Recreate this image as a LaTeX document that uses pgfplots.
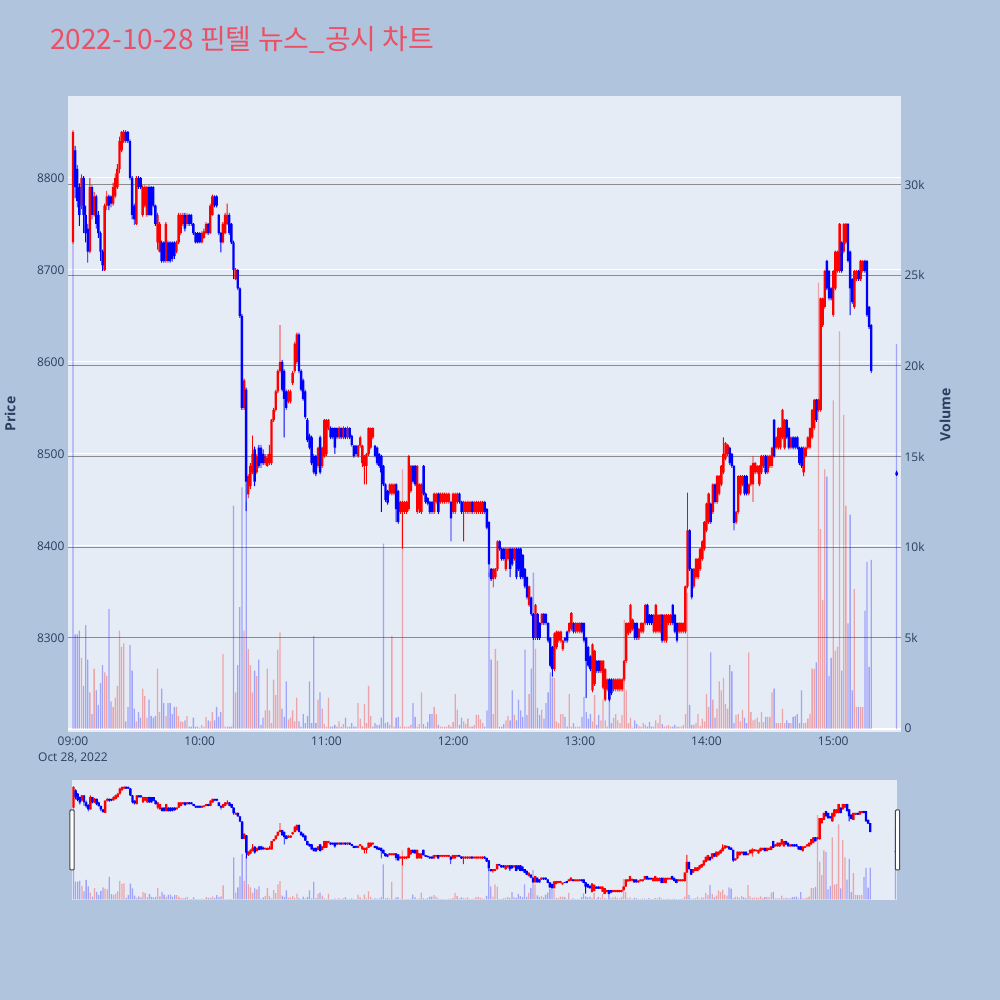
\documentclass[border=0pt]{standalone}
\usepackage{fontspec}
\setmainfont{Open Sans}
\newfontfamily\cjk{Noto Sans CJK KR}
\usepackage{pgfplots}
\usepackage{pgfplotstable}
\pgfplotsset{compat=1.18}
\definecolor{pagebg}{HTML}{B0C4DE}
\definecolor{plotbg}{HTML}{E5ECF6}
\definecolor{txt}{HTML}{2A3F5F}
\definecolor{ttl}{RGB}{235,80,100}
\definecolor{vgrid}{RGB}{140,140,140}
\definecolor{up}{RGB}{255,0,0}
\definecolor{dn}{RGB}{0,0,255}

\pgfplotstableread{
t o h l c v
0 8730 8852 8728 8850 26.8
1 8830 8835 8778 8790 5.2
2 8810 8814 8768 8775 5.2
3 8790 8794 8748 8760 5.4
4 8770 8804 8766 8800 3.9
5 8800 8802 8740 8760 2.35
6 8760 8770 8730 8740 5.7
7 8745 8750 8708 8720 3.8
8 8720 8800 8718 8790 2.0
9 8790 8792 8755 8760 0.8
10 8760 8785 8758 8780 3.3
11 8780 8782 8745 8750 2.1
12 8760 8764 8735 8740 1.3
13 8740 8742 8710 8720 2.5
14 8720 8722 8699 8705 3.5
15 8700 8772 8699 8770 3.1
16 8770 8786 8765 8780 2.9
17 8780 8782 8765 8770 6.6
18 8780 8781 8768 8772 1.5
19 8772 8795 8770 8790 1.2
20 8780 8805 8778 8800 1.7
21 8790 8815 8788 8810 2.35
22 8810 8845 8805 8840 5.4
23 8830 8851 8828 8850 4.5
24 8840 8852 8838 8850 4.7
25 8850 8852 8838 8840 0.4
26 8850 8851 8838 8840 1.2
27 8840 8842 8798 8800 4.6
28 8800 8802 8755 8760 3.2
29 8770 8772 8749 8755 1.1
30 8750 8802 8749 8800 0.4
31 8800 8802 8788 8790 0.9
32 8800 8801 8788 8790 0.6
33 8760 8792 8758 8790 2.2
34 8770 8792 8768 8790 1.8
35 8760 8791 8758 8790 0.6
36 8790 8792 8759 8760 1.6
37 8790 8791 8759 8760 0.7
38 8790 8791 8768 8770 0.6
39 8770 8771 8748 8750 0.7
40 8730 8762 8722 8760 3.3
41 8720 8752 8719 8750 0.9
42 8730 8732 8708 8710 2.2
43 8730 8731 8708 8710 1.4
44 8710 8752 8708 8750 0.7
45 8730 8732 8708 8710 1.4
46 8730 8731 8708 8710 1.4
47 8730 8731 8709 8712 0.8
48 8730 8731 8712 8715 1.2
49 8720 8732 8718 8730 1.2
50 8730 8762 8728 8760 0.7
51 8740 8762 8738 8760 0.4
52 8750 8762 8748 8760 0.35
53 8760 8762 8742 8745 0.45
54 8750 8762 8748 8760 0.7
55 8760 8761 8748 8750 0.1
56 8760 8761 8748 8750 0.1
57 8750 8751 8738 8740 0.6
58 8740 8741 8729 8730 0.1
59 8740 8741 8729 8730 0.1
60 8740 8741 8729 8730 0.05
61 8730 8742 8729 8740 0.2
62 8735 8745 8734 8742 0.1
63 8740 8752 8739 8750 0.65
64 8750 8751 8738 8740 0.45
65 8740 8772 8739 8770 0.4
66 8760 8782 8759 8780 0.9
67 8780 8781 8768 8770 0.45
68 8780 8781 8768 8770 1.2
69 8760 8761 8738 8740 0.65
70 8740 8741 8719 8730 0.9
71 8730 8752 8729 8750 4.1
72 8740 8762 8739 8760 0.1
73 8750 8772 8749 8760 0.1
74 8760 8762 8738 8740 0.1
75 8750 8751 8728 8730 0.1
76 8730 8732 8690 8700 12.3
77 8690 8702 8689 8700 2.0
78 8700 8701 8678 8680 3.5
79 8680 8681 8648 8650 6.7
80 8650 8652 8548 8550 13.3
81 8550 8582 8548 8580 5.4
82 8570 8572 8438 8470 12.5
83 8456 8478 8452 8476 4.4
84 8465 8490 8462 8487 3.5
85 8480 8520 8478 8500 2.0
86 8505 8508 8465 8470 3.2
87 8480 8500 8478 8498 2.9
88 8507 8510 8485 8487 3.8
89 8507 8510 8485 8490 0.2
90 8500 8505 8488 8490 0.6
91 8490 8500 8488 8498 1.0
92 8487 8500 8486 8496 3.3
93 8490 8510 8488 8500 1.0
94 8490 8538 8488 8537 0.3
95 8537 8550 8535 8548 2.7
96 8548 8570 8546 8568 1.85
97 8568 8592 8566 8590 4.35
98 8590 8640 8588 8600 5.3
99 8600 8602 8568 8570 1.1
100 8590 8592 8518 8560 0.65
101 8568 8570 8548 8550 2.6
102 8557 8570 8555 8568 0.5
103 8557 8570 8555 8568 0.6
104 8577 8590 8575 8588 1.0
105 8590 8622 8588 8620 0.4
106 8600 8632 8598 8630 1.7
107 8630 8632 8588 8590 0.4
108 8590 8592 8568 8570 0.1
109 8580 8582 8558 8560 0.8
110 8568 8570 8538 8540 0.3
111 8537 8539 8513 8515 0.7
112 8520 8522 8505 8507 2.6
113 8518 8520 8488 8490 0.3
114 8498 8500 8478 8480 5.1
115 8498 8499 8476 8478 0.3
116 8487 8508 8485 8507 1.6
117 8518 8520 8478 8480 2.0
118 8487 8508 8485 8507 1.1
119 8498 8538 8496 8537 0.25
120 8500 8538 8498 8537 0.1
121 8528 8538 8526 8537 1.7
122 8528 8530 8516 8518 0.1
123 8528 8529 8516 8518 0.1
124 8528 8529 8500 8507 0.2
125 8528 8529 8516 8518 0.1
126 8518 8530 8516 8528 0.4
127 8528 8529 8516 8518 0.1
128 8518 8530 8516 8528 0.25
129 8528 8529 8516 8518 0.6
130 8518 8530 8516 8528 0.1
131 8528 8529 8516 8518 0.1
132 8520 8521 8508 8510 0.3
133 8509 8510 8496 8498 0.1
134 8509 8510 8498 8500 0.1
135 8498 8510 8496 8509 1.4
136 8509 8520 8507 8518 0.55
137 8490 8510 8486 8509 0.1
138 8487 8499 8467 8498 1.35
139 8487 8501 8467 8500 0.3
140 8500 8529 8498 8528 2.35
141 8507 8529 8505 8528 0.7
142 8518 8529 8516 8528 0.1
143 8509 8510 8496 8498 0.3
144 8507 8508 8488 8490 0.2
145 8500 8501 8485 8487 0.2
146 8498 8499 8437 8480 0.6
147 8487 8488 8465 8467 10.2
148 8467 8468 8448 8450 0.3
149 8460 8461 8445 8447 0.35
150 8457 8468 8455 8467 0.2
151 8457 8468 8455 8467 5.1
152 8457 8468 8455 8467 0.1
153 8467 8468 8426 8440 0.6
154 8460 8461 8424 8426 0.65
155 8437 8449 8435 8448 0.1
156 8437 8449 8397 8448 14.3
157 8437 8449 8435 8448 0.1
158 8437 8449 8435 8448 0.1
159 8440 8499 8438 8498 0.1
160 8460 8488 8458 8487 0.2
161 8487 8488 8468 8470 1.4
162 8487 8488 8465 8467 0.65
163 8437 8488 8435 8487 0.1
164 8440 8468 8436 8467 0.25
165 8437 8468 8435 8467 2.0
166 8487 8488 8455 8457 0.25
167 8457 8458 8446 8448 0.1
168 8452 8453 8444 8446 0.35
169 8448 8449 8435 8437 0.8
170 8448 8449 8435 8437 0.8
171 8437 8458 8435 8457 1.2
172 8448 8458 8446 8457 0.8
173 8457 8458 8435 8437 0.2
174 8448 8458 8446 8457 0.1
175 8448 8458 8446 8457 0.1
176 8448 8458 8446 8457 0.1
177 8448 8458 8446 8457 0.1
178 8448 8458 8446 8457 0.2
179 8448 8449 8405 8430 0.1
180 8437 8458 8435 8457 0.35
181 8437 8458 8435 8457 1.9
182 8448 8458 8446 8457 1.05
183 8457 8458 8446 8448 0.2
184 8448 8449 8435 8437 0.6
185 8437 8449 8405 8448 0.4
186 8437 8449 8435 8448 0.25
187 8437 8449 8435 8448 0.55
188 8437 8449 8435 8448 0.1
189 8448 8449 8435 8437 0.1
190 8437 8449 8435 8448 0.2
191 8437 8449 8435 8448 0.75
192 8437 8449 8435 8448 0.75
193 8437 8449 8435 8448 0.5
194 8437 8449 8435 8448 0.3
195 8448 8449 8435 8437 0.1
196 8440 8441 8418 8420 1.0
197 8426 8427 8366 8380 8.6
198 8375 8376 8362 8364 3.8
199 8364 8376 8355 8375 0.8
200 8366 8376 8364 8375 4.4
201 8375 8406 8373 8405 3.75
202 8405 8406 8395 8397 0.1
203 8397 8398 8384 8386 0.1
204 8397 8398 8384 8386 0.25
205 8375 8398 8373 8397 0.45
206 8386 8398 8384 8397 0.7
207 8397 8398 8366 8375 0.45
208 8397 8398 8378 8380 2.1
209 8386 8398 8384 8397 0.75
210 8397 8398 8364 8366 0.45
211 8397 8398 8373 8375 1.6
212 8397 8398 8364 8366 1.0
213 8390 8391 8364 8366 0.65
214 8375 8376 8354 8356 4.35
215 8366 8367 8342 8344 0.75
216 8336 8357 8334 8356 1.9
217 8344 8345 8324 8326 3.3
218 8326 8327 8298 8300 8.6
219 8300 8337 8298 8336 4.4
220 8326 8327 8298 8300 1.15
221 8316 8317 8298 8300 0.75
222 8316 8327 8314 8326 1.05
223 8326 8327 8314 8316 0.55
224 8326 8327 8314 8316 1.4
225 8316 8317 8295 8297 2.0
226 8300 8301 8268 8270 3.1
227 8290 8291 8258 8266 2.8
228 8266 8306 8264 8305 2.8
229 8290 8308 8288 8307 0.4
230 8297 8308 8295 8307 0.3
231 8297 8308 8295 8307 0.8
232 8288 8298 8286 8297 0.8
233 8300 8301 8295 8297 0.65
234 8307 8308 8295 8297 0.1
235 8307 8317 8305 8316 1.9
236 8310 8328 8308 8327 0.1
237 8316 8317 8305 8307 0.3
238 8307 8317 8305 8316 0.1
239 8307 8317 8305 8316 0.1
240 8307 8317 8305 8316 0.1
241 8316 8317 8305 8307 0.65
242 8316 8317 8295 8297 1.75
243 8300 8301 8235 8275 0.9
244 8290 8291 8268 8270 0.55
245 8280 8281 8264 8266 0.8
246 8243 8294 8241 8293 0.4
247 8250 8287 8248 8286 1.85
248 8275 8276 8262 8264 0.2
249 8275 8276 8262 8264 0.75
250 8264 8276 8262 8275 0.45
251 8246 8276 8244 8275 1.6
252 8233 8267 8231 8266 0.45
253 8244 8256 8242 8255 0.1
254 8255 8256 8231 8233 2.2
255 8255 8256 8238 8240 0.3
256 8244 8256 8242 8255 0.6
257 8244 8256 8242 8255 0.8
258 8244 8256 8242 8255 0.45
259 8244 8256 8242 8255 0.3
260 8244 8256 8242 8255 0.75
261 8255 8276 8253 8275 6.0
262 8275 8317 8273 8316 2.1
263 8305 8317 8303 8316 0.3
264 8307 8337 8305 8336 0.6
265 8310 8321 8308 8320 0.05
266 8316 8317 8298 8300 0.45
267 8316 8317 8298 8300 0.25
268 8300 8311 8298 8310 0.15
269 8307 8317 8305 8316 0.1
270 8307 8317 8305 8316 0.3
271 8316 8337 8314 8336 0.2
272 8336 8337 8314 8316 0.1
273 8325 8326 8314 8316 0.35
274 8325 8326 8314 8316 0.1
275 8307 8326 8305 8325 0.1
276 8307 8337 8305 8336 0.45
277 8307 8326 8305 8325 0.3
278 8307 8326 8305 8325 0.75
279 8325 8326 8295 8297 0.25
280 8297 8326 8295 8325 0.1
281 8297 8326 8295 8325 0.15
282 8316 8326 8314 8325 0.2
283 8316 8326 8314 8325 0.1
284 8336 8337 8314 8316 0.1
285 8325 8326 8305 8307 0.2
286 8316 8317 8295 8297 0.1
287 8307 8317 8305 8316 0.1
288 8307 8317 8305 8316 0.1
289 8307 8317 8305 8316 0.2
290 8307 8357 8305 8356 0.8
291 8356 8458 8354 8417 7.5
292 8417 8418 8373 8375 1.3
293 8375 8376 8342 8344 0.2
294 8356 8376 8354 8375 0.2
295 8366 8387 8364 8386 0.3
296 8366 8387 8364 8386 0.8
297 8375 8398 8373 8397 0.15
298 8386 8406 8384 8405 0.55
299 8397 8427 8395 8426 0.4
300 8417 8447 8415 8446 1.9
301 8426 8458 8424 8457 1.2
302 8446 8447 8424 8426 4.2
303 8437 8468 8435 8467 1.6
304 8467 8468 8446 8448 0.6
305 8448 8477 8446 8476 1.1
306 8457 8477 8455 8476 2.6
307 8467 8488 8465 8487 2.1
308 8480 8518 8478 8500 2.8
309 8495 8513 8493 8512 1.35
310 8500 8511 8498 8510 1.1
311 8507 8508 8488 8490 3.5
312 8500 8501 8485 8487 3.15
313 8487 8488 8417 8425 0.3
314 8426 8438 8424 8437 0.75
315 8437 8477 8435 8476 0.8
316 8457 8477 8455 8476 0.4
317 8467 8477 8465 8476 1.05
318 8476 8477 8455 8457 0.6
319 8476 8477 8455 8457 0.3
320 8457 8468 8455 8467 4.2
321 8467 8488 8465 8487 0.9
322 8467 8498 8448 8490 0.45
323 8480 8491 8478 8490 0.5
324 8480 8488 8478 8487 0.6
325 8467 8488 8465 8487 0.35
326 8480 8499 8478 8498 0.9
327 8487 8499 8485 8498 0.35
328 8498 8499 8478 8480 0.65
329 8480 8499 8478 8498 0.65
330 8487 8499 8485 8498 0.65
331 8487 8508 8485 8507 2.0
332 8537 8538 8496 8498 2.2
333 8507 8519 8505 8518 0.3
334 8507 8529 8505 8528 0.3
335 8507 8529 8505 8528 0.3
336 8518 8549 8516 8548 1.1
337 8507 8538 8505 8537 0.3
338 8537 8538 8516 8518 0.45
339 8528 8529 8505 8507 0.3
340 8507 8519 8505 8518 0.3
341 8518 8519 8505 8507 0.65
342 8518 8519 8505 8507 0.7
343 8518 8519 8505 8507 0.8
344 8507 8508 8488 8490 0.3
345 8507 8508 8485 8487 2.1
346 8480 8508 8476 8507 0.3
347 8498 8508 8496 8507 0.3
348 8507 8519 8505 8518 0.55
349 8507 8529 8505 8528 0.8
350 8518 8549 8516 8548 3.3
351 8528 8560 8526 8559 3.3
352 8559 8560 8535 8537 3.65
353 8548 8560 8546 8559 24.6
354 8548 8670 8546 8669 11.0
355 8640 8670 8638 8669 7.1
356 8660 8700 8658 8699 14.3
357 8710 8711 8678 8680 13.9
358 8699 8700 8667 8669 2.9
359 8680 8681 8667 8669 3.9
360 8651 8700 8649 8699 18.1
361 8680 8721 8678 8720 4.3
362 8699 8721 8697 8720 4.5
363 8699 8751 8697 8750 21.9
364 8730 8731 8697 8699 3.2
365 8720 8751 8718 8750 17.3
366 8730 8751 8728 8750 12.3
367 8750 8751 8708 8710 5.8
368 8720 8721 8651 8680 11.8
369 8690 8691 8663 8665 2.1
370 8660 8700 8658 8699 7.7
371 8690 8700 8688 8699 1.2
372 8699 8700 8688 8690 1.2
373 8690 8711 8688 8710 1.2
374 8699 8711 8697 8710 1.2
375 8710 8711 8697 8699 6.5
376 8710 8711 8649 8651 9.2
377 8660 8661 8636 8638 3.4
378 8640 8641 8588 8590 9.3
390 8480 8482 8476 8477 21.2
}\data

\pgfplotsset{
  base/.style={scale only axis, anchor=south west,
    axis line style={draw=none}, tick style={draw=none}},
  mainpos/.style={base, at={(68pt,268pt)}, width=833pt, height=636pt, xmin=-2.37, xmax=392.1},
  slidepos/.style={base, at={(72pt,100pt)}, width=825pt, height=120pt, xmin=-0.7, xmax=390.7},
  pricey/.style={ymin=8197.8, ymax=8889.1},
  voly/.style={ymin=-0.19, ymax=34.89},
}
% #1 position style, #2 base expr, #3 height expr, #4 colour, #5 bar width
\newcommand{\stackax}[5]{%
\begin{axis}[#1, pricey, xtick=\empty, ytick=\empty, ybar stacked, bar width=#5]
\addplot[draw=none, fill=none, forget plot] table[x=t, y expr={#2}]{\data};
\addplot[draw=none, fill=#4, forget plot] table[x=t, y expr={#3}]{\data};
\end{axis}}
\newcommand{\allcandles}[1]{%
\stackax{#1}{\thisrow{l}}{\thisrow{c}>=\thisrow{o} ? \thisrow{h}-\thisrow{l} : 0}{up}{0.9pt}
\stackax{#1}{min(\thisrow{o},\thisrow{c})}{\thisrow{c}>=\thisrow{o} ? max(\thisrow{c}-\thisrow{o},2.5) : 0}{up}{2.4pt}
\stackax{#1}{\thisrow{l}}{\thisrow{c}<\thisrow{o} ? \thisrow{h}-\thisrow{l} : 0}{dn}{0.9pt}
\stackax{#1}{min(\thisrow{o},\thisrow{c})}{\thisrow{c}<\thisrow{o} ? max(\thisrow{o}-\thisrow{c},2.5) : 0}{dn}{2.4pt}
}
\newcommand{\volumes}{%
  \addplot[ybar, bar shift=0pt, bar width=1.3pt, draw=none, fill=up, fill opacity=0.3, forget plot]
    table[x=t, y expr={\thisrow{t}<0.5 ? 0 : (\thisrow{c}>=\thisrow{o} ? \thisrow{v} : 0)}]{\data};
  \addplot[ybar, bar shift=0pt, bar width=1.3pt, draw=none, fill=dn, fill opacity=0.3, forget plot]
    table[x=t, y expr={\thisrow{t}<0.5 ? \thisrow{v} : (\thisrow{c}<\thisrow{o} ? \thisrow{v} : 0)}]{\data};
}

\begin{document}
\begin{tikzpicture}
\fill[pagebg] (0,0) rectangle (1000pt,1000pt);

% main: background, price grid and labels
\begin{axis}[mainpos, pricey,
  axis background/.style={fill=plotbg},
  ytick={8300,8400,8500,8600,8700,8800},
  yticklabels={8300,8400,8500,8600,8700,8800},
  ymajorgrids, grid style={white, line width=1pt},
  xtick={0,60,120,180,240,300,360},
  xticklabels={{09:00\\Oct 28, 2022},10:00,11:00,12:00,13:00,14:00,15:00},
  xticklabel style={align=center, font=\fontsize{12}{16}\selectfont, text=txt, yshift=-1pt},
  yticklabel style={font=\fontsize{12}{14}\selectfont, text=txt}]
\addplot[draw=none, forget plot] coordinates {(0,8300)};
\end{axis}

% main: volume
\begin{axis}[mainpos, voly, xtick=\empty,
  yticklabel pos=right,
  ytick={5,10,15,20,25,30},
  yticklabels={5k,10k,15k,20k,25k,30k},
  extra y ticks={0}, extra y tick labels={0},
  extra y tick style={grid style={white, line width=2pt}},
  ymajorgrids, grid style={vgrid, line width=1pt},
  yticklabel style={font=\fontsize{12}{14}\selectfont, text=txt}]
\volumes
\end{axis}

% main: candles
\allcandles{mainpos}

% range slider
\begin{axis}[slidepos, voly, xtick=\empty, ytick=\empty,
  axis background/.style={fill=plotbg}]
\volumes
\end{axis}
\allcandles{slidepos}

\draw[draw={rgb,255:red,68;green,68;blue,68}, fill=white, line width=1pt, rounded corners=1pt]
  (69.8pt,130pt) rectangle (74.2pt,190pt);
\draw[draw={rgb,255:red,68;green,68;blue,68}, fill=white, line width=1pt, rounded corners=1pt]
  (895.3pt,130pt) rectangle (899.7pt,190pt);

\node[anchor=base west, text=ttl, font=\cjk\fontsize{28}{32}\selectfont, inner sep=0pt]
  at (50pt,950pt) {2022-10-28 핀텔 뉴스\_공시 차트};
\node[rotate=90, text=txt, font=\bfseries\fontsize{14}{16}\selectfont] at (10pt,586pt) {Price};
\node[rotate=90, text=txt, font=\bfseries\fontsize{14}{16}\selectfont] at (945pt,585pt) {Volume};

\pgfresetboundingbox
\path[use as bounding box] (0,0) rectangle (1000pt,1000pt);
\end{tikzpicture}
\end{document}
